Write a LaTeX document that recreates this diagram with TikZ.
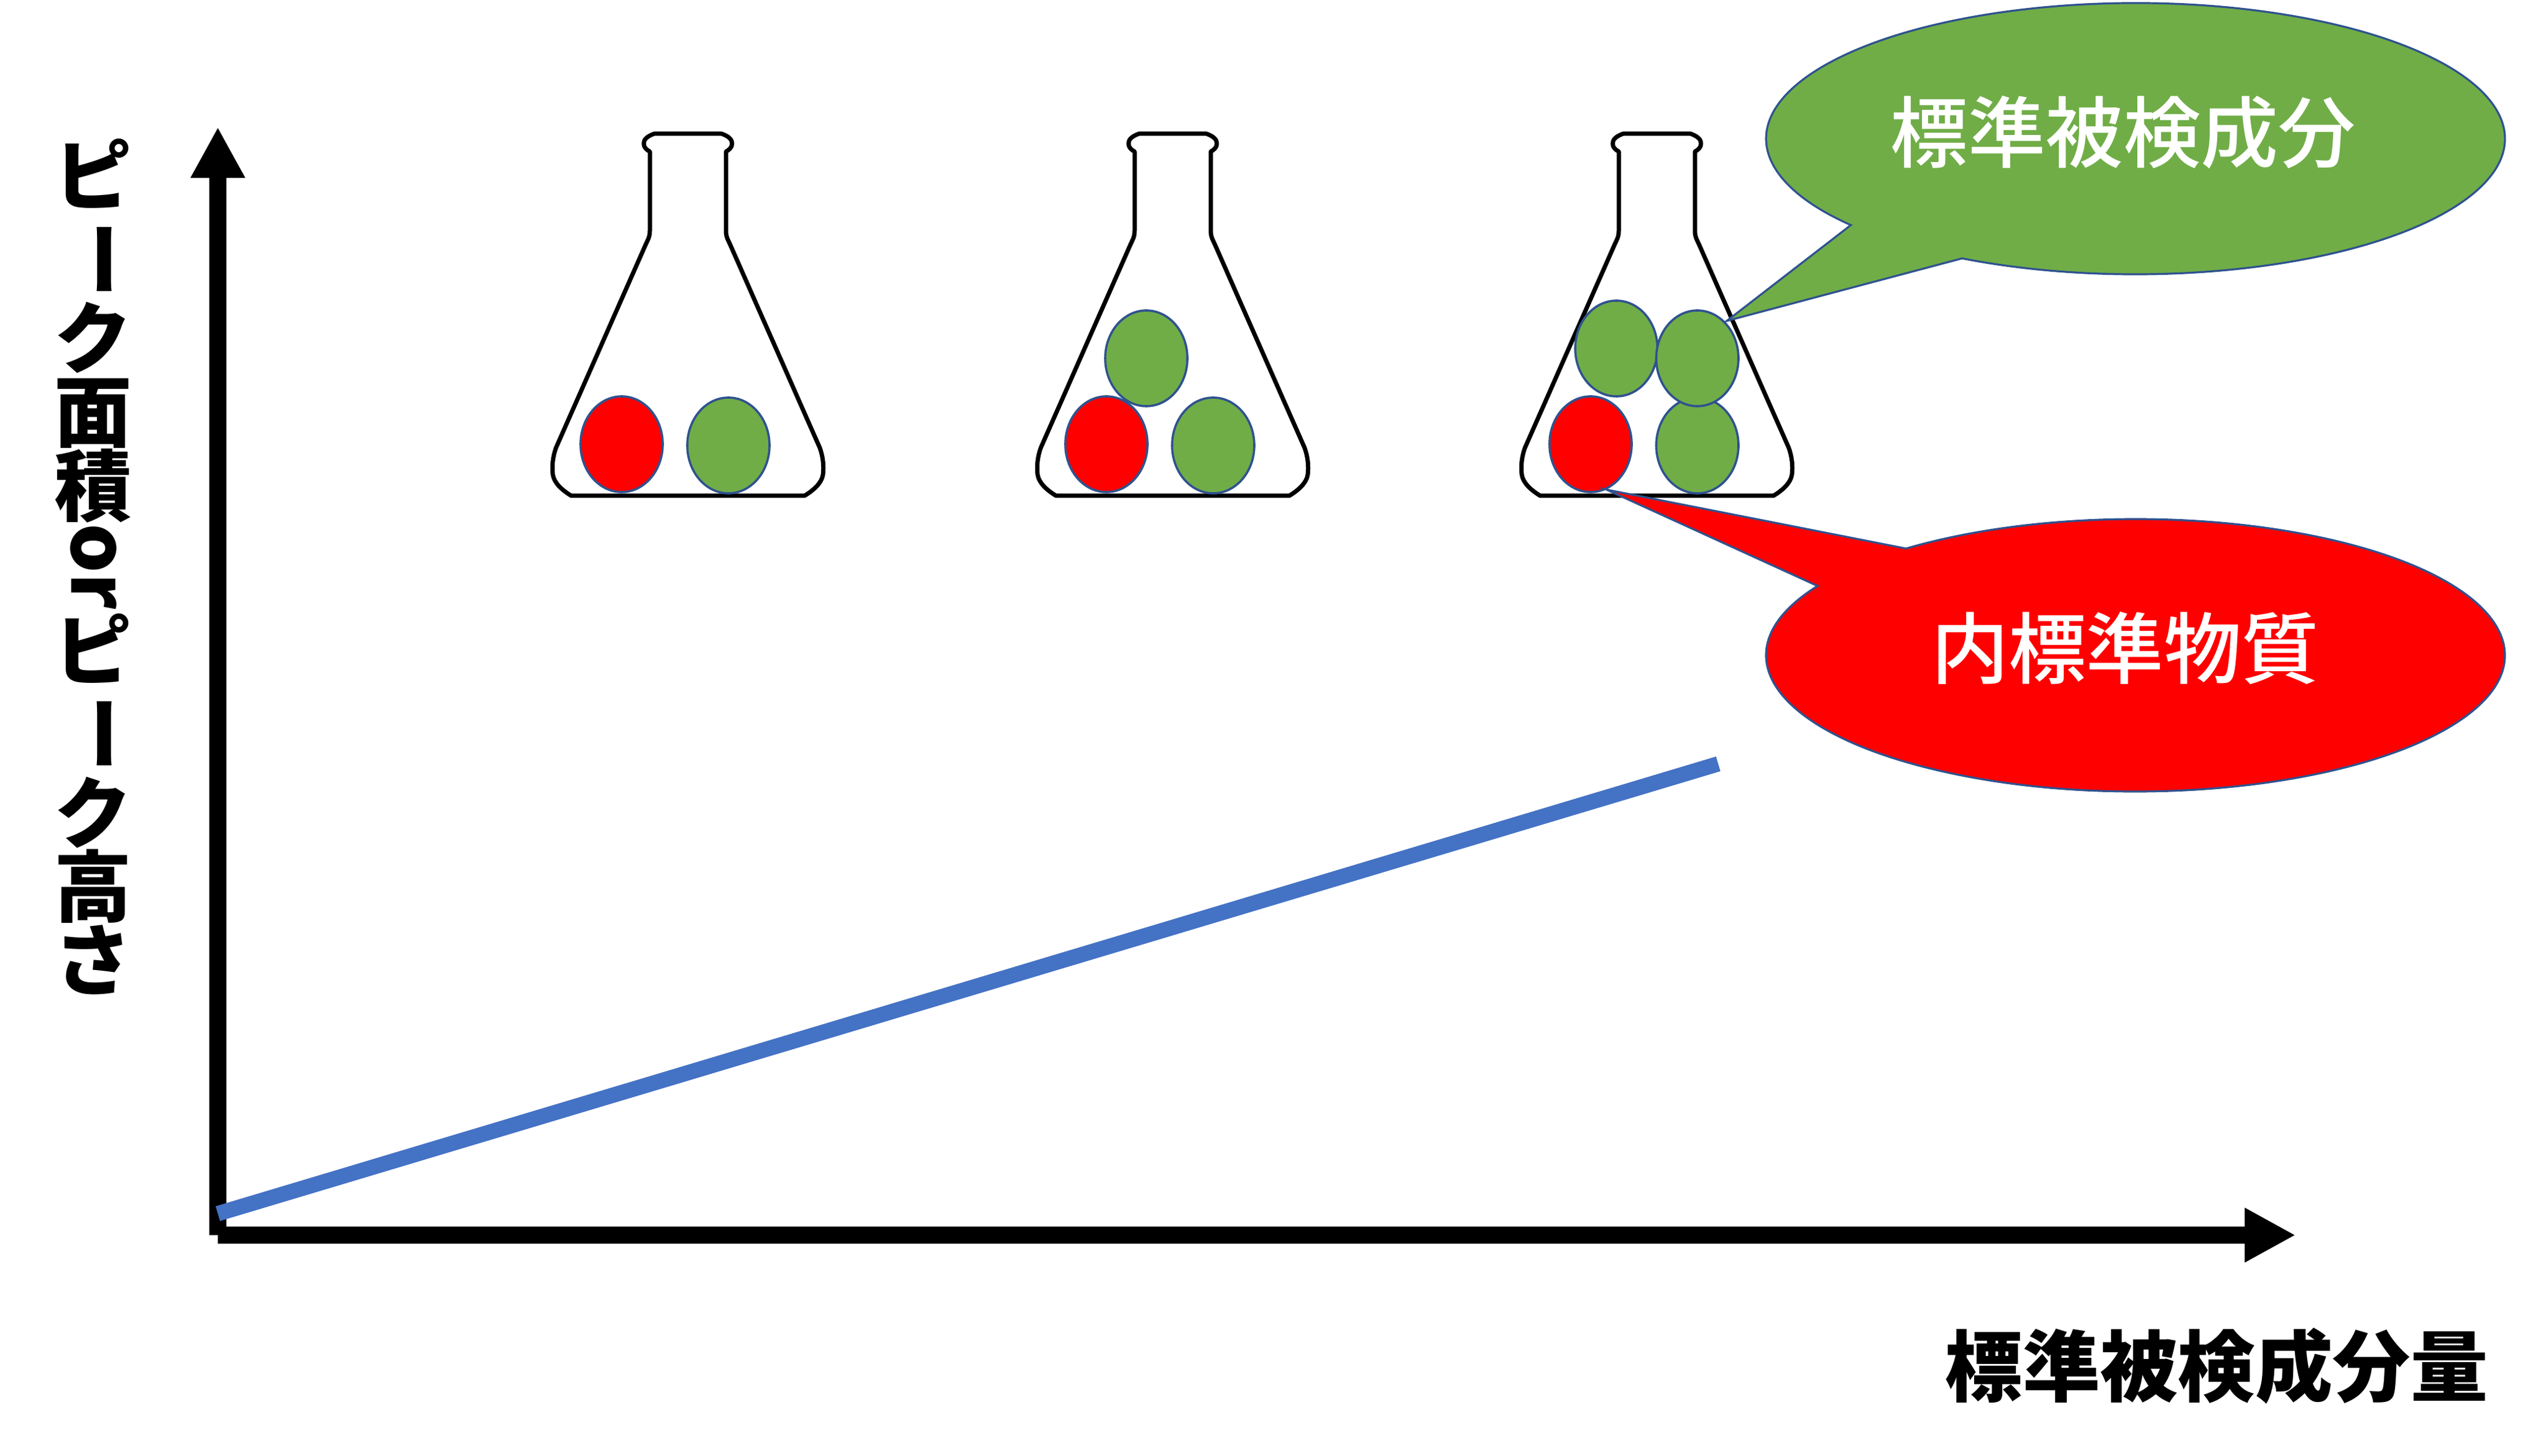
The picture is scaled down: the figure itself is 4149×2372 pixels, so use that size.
\documentclass[tikz,border=0pt]{standalone}
\usepackage{fontspec}
\usepackage{graphicx}
\usetikzlibrary{arrows.meta}
\newfontfamily\cjk{Noto Sans CJK JP}
\newfontfamily\cjkmed{Noto Sans CJK JP Medium}
\definecolor{analyte}{HTML}{70AD47}
\definecolor{internal}{HTML}{FF0000}
\definecolor{trend}{HTML}{4472C4}
\definecolor{rim}{HTML}{2F528F}

\tikzset{
  pics/flask/.style={code={
    \draw[line width=0.035cm, line join=round] (-55,2154) -- (55,2154)
      .. controls (66,2150) and (72,2145) .. (72,2138)
      .. controls (72,2131) and (66,2127) .. (62,2125) -- (62,1996)
      .. controls (62,1985) and (66,1980) .. (69,1973) -- (215,1642)
      .. controls (220,1628) and (222,1612) .. (220,1598)
      .. controls (218,1585) and (205,1573) .. (190,1564) -- (-190,1564)
      .. controls (-205,1573) and (-218,1585) .. (-220,1598)
      .. controls (-222,1612) and (-220,1628) .. (-215,1642) -- (-69,1973)
      .. controls (-66,1980) and (-62,1985) .. (-62,1996) -- (-62,2125)
      .. controls (-66,2127) and (-72,2131) .. (-72,2138)
      .. controls (-72,2145) and (-66,2150) .. (-55,2154) -- cycle;
  }}
}

\begin{document}
\begin{tikzpicture}[x=0.005cm, y=0.005cm,
    axis/.style={line width=0.14cm, -{Triangle[length=0.415cm,width=0.415cm]}},
    ball/.style={draw=rim, line width=0.018cm, fill=#1},
    callout/.style={draw=rim, line width=0.016cm, fill=#1},
    lbl/.style={font=\cjk\bfseries\fontsize{18}{17.1}\selectfont, inner sep=0pt, align=center},
    bubbletext/.style={font=\cjkmed\fontsize{18}{18}\selectfont, inner sep=0pt, text=white}]
  \useasboundingbox (0,0) rectangle (4149,2372);

  % axes
  \coordinate (O) at (355,359);
  \coordinate (ytip) at (355,2165);
  \coordinate (xtip) at (3741,359);
  \draw[axis] (O) -- (ytip);
  \draw[axis] (O) -- (xtip);

  % calibration line
  \coordinate (lstart) at (355,394);
  \coordinate (lend) at (2800,1127);
  \draw[trend, line width=0.125cm] (lstart) -- (lend);

  % flasks
  \foreach \cx in {1121,1911,2700} {
    \pic at (\cx,0) {flask};
    \draw[ball=internal] (\cx-108,1648) ellipse [x radius=67, y radius=78];
    \draw[ball=analyte] (\cx+66,1646) ellipse [x radius=67, y radius=78];
  }
  \draw[ball=analyte] (1868,1788) ellipse [x radius=67, y radius=78];
  \draw[ball=analyte] (2634,1804) ellipse [x radius=67, y radius=78];
  \draw[ball=analyte] (2766,1788) ellipse [x radius=67, y radius=78];

  % callouts
  \coordinate (gtip) at (2814,1849);
  \draw[callout=analyte] (3480,2146) ++(242:602 and 221)
    arc[start angle=242, end angle=579.6, x radius=602, y radius=221] -- (gtip) -- cycle;
  \node[bubbletext] (analytelbl) at (3460,2156) {標準被検成分};
  \coordinate (rtip) at (2618,1574);
  \draw[callout=internal] (3480,1304) ++(149.4:602 and 222)
    arc[start angle=149.4, end angle=488.4, x radius=602, y radius=222] -- (rtip) -- cycle;
  \node[bubbletext] (internallbl) at (3463,1316) {内標準物質};

  % axis titles
  \node[lbl] (xlbl) at (3612,146) {標準被検成分量};
  \node[lbl, anchor=north] (ylbl) at (152,2147) {ピ\\\rotatebox[origin=c]{-90}{ー}\\ク\\面\\積\\\rotatebox[origin=c]{-90}{or}\\ピ\\\rotatebox[origin=c]{-90}{ー}\\ク\\高\\さ};
\end{tikzpicture}
\end{document}
